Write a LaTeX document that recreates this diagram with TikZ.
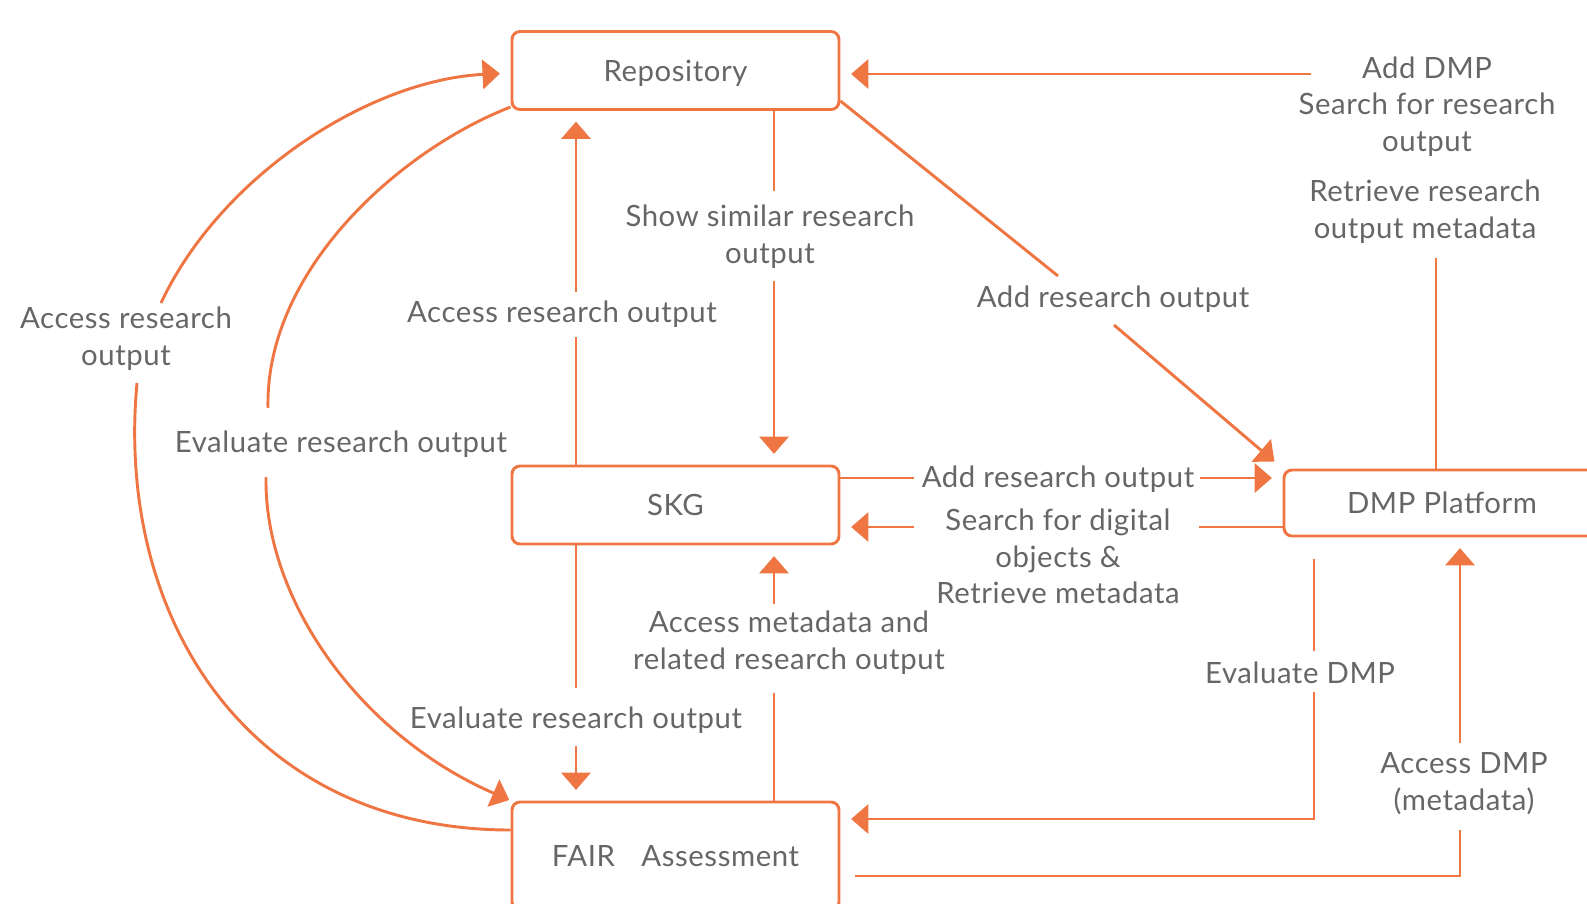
\documentclass[tikz,border=0pt]{standalone}
\usepackage{fontspec}
\setmainfont{Lato}[LetterSpace=2]
\usetikzlibrary{arrows.meta}
\definecolor{orng}{RGB}{239,118,67}
\definecolor{txtgray}{RGB}{102,102,102}

\begin{document}
\begin{tikzpicture}[x=0.75pt,y=0.75pt,yscale=-1,xscale=1,
  box/.style={draw=orng, line width=2.2pt, rounded corners=6pt, text=txtgray, font=\fontsize{22}{27.4}\selectfont, minimum width=245.25pt, minimum height=58.5pt, inner sep=0pt, text height=19.4pt, text depth=3.6pt},
  lbl/.style={text=txtgray, font=\fontsize{22}{27.4}\selectfont, align=center, inner sep=0pt, yshift=-2pt},
  link/.style={draw=orng, line width=2.2pt},
  arr/.style={link, shorten >=8pt, -{Triangle[length=13pt,width=22pt]}}]
        %set diagram size to 1587 x 903
        \clip (0,0) rectangle (1587,903);

        % Boxes
        \node[box] (repo) at (675.5,70.5) {Repository};
        \node[box] (skg) at (675.5,505) {SKG};
        \node[box, minimum height=81pt] (fair) at (675.5,856) {FAIR\hspace{0.9em}Assessment};
        \node[box, minimum width=237pt, minimum height=49.5pt] (dmp) at (1442,503) {DMP Platform};

        % Text Nodes
        \node[lbl] (adddmp) at (1427,104) {Add DMP\\Search for research\\output};
        \node[lbl] (retrieve) at (1425,209) {Retrieve research\\output metadata};
        \node[lbl] (addrepo) at (1113,297) {Add research output};
        \node[lbl] (similar) at (770,234) {Show similar research\\output};
        \node[lbl] (accskg) at (562,312) {Access research output};
        \node[lbl] (accfair) at (126,336) {Access research\\output};
        \node[lbl] (evalrepo) at (341,442) {Evaluate research output};
        \node[lbl] (evalskg) at (576,718) {Evaluate research output};
        \node[lbl] (accmeta) at (789,640) {Access metadata and\\related research output};
        \node[lbl] (adddmpskg) at (1058,477) {Add research output};
        \node[lbl] (search) at (1058,554) {Search for digital\\objects \&\\Retrieve metadata};
        \node[lbl] (evaldmp) at (1300,670) {Evaluate DMP};
        \node[lbl] (accdmp) at (1464,781) {Access DMP\\(metadata)};

        % DMP Platform -> Repository
        \draw[arr] (1311,74) -- (repo.east |- 0,74);
        \draw[link] (dmp.north -| 1436,0) -- (1436,258);
        % Repository -> DMP Platform
        \draw[link] (repo.east |- 0,101) -- (1058,276);
        \draw[arr] (1114,325) -- (dmp.north west);
        % Repository <-> SKG
        \draw[link] (repo.south -| 774,0) -- (774,191);
        \draw[arr] (774,281) -- (skg.north -| 774,0);
        \draw[link] (skg.north -| 576,0) -- (576,337);
        \draw[arr] (576,292) -- (repo.south -| 576,0);
        % FAIR Assessment <-> Repository
        \draw[link] (fair.west |- 0,830) .. controls (250,830) and (115,620) .. (137,383);
        \draw[arr] (161,303) .. controls (221,175) and (370,80) .. (repo.west |- 0,73);
        \draw[link] (repo.west |- 0,107) .. controls (400,150) and (265,270) .. (268,408);
        \draw[arr, shorten >=1pt] (266,477) .. controls (264,600) and (360,735) .. (fair.north west);
        % SKG <-> FAIR Assessment
        \draw[link] (skg.south -| 576,0) -- (576,688);
        \draw[arr] (576,746) -- (fair.north -| 576,0);
        \draw[link] (fair.north -| 774,0) -- (774,693);
        \draw[arr] (774,604) -- (skg.south -| 774,0);
        % SKG <-> DMP Platform
        \draw[link] (skg.east |- 0,478) -- (914,478);
        \draw[arr] (1200,478) -- (dmp.west |- 0,478);
        \draw[link] (dmp.west |- 0,527) -- (1199,527);
        \draw[arr] (914,527) -- (skg.east |- 0,527);
        % DMP Platform <-> FAIR Assessment
        \draw[link] (1314,559) -- (1314,651);
        \draw[arr] (1314,692) -- (1314,819) -- (fair.east |- 0,819);
        \draw[link] (855,876) -- (1460,876) -- (1460,830);
        \draw[arr] (1460,743) -- (dmp.south -| 1460,0);

\end{tikzpicture}
\end{document}
